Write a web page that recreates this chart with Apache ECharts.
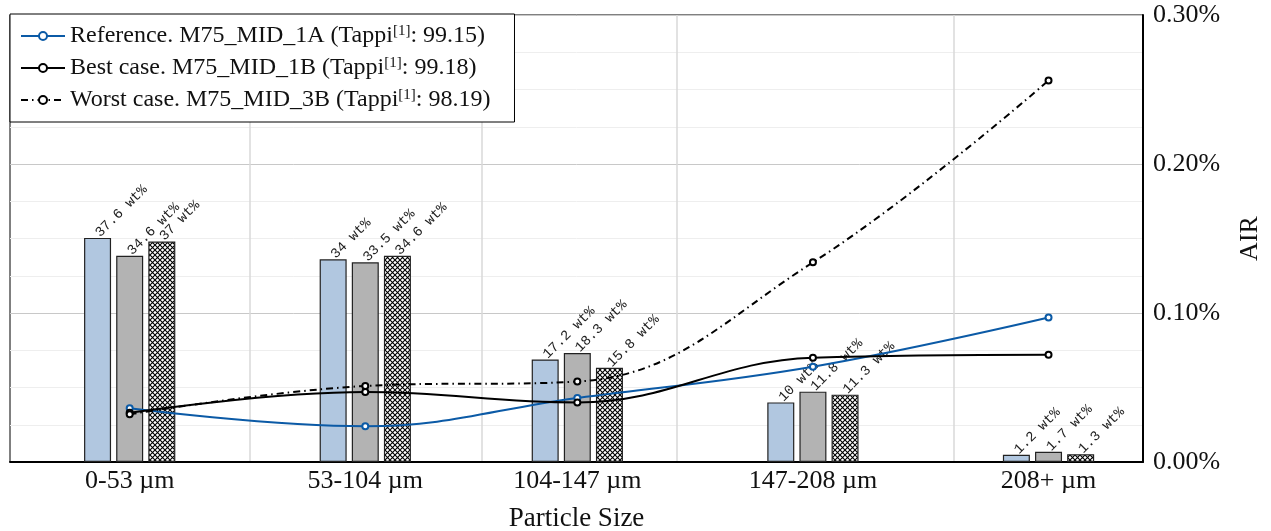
<!DOCTYPE html>
<html>
<head>
<meta charset="utf-8">
<script src="https://cdn.jsdelivr.net/npm/echarts@6/dist/echarts.min.js"></script>
<style>
	html, body { margin: 0; padding: 0; background: #fff; }
	#chart { width: 1271px; height: 531px; }
</style>
</head>
<body>
<div id="chart"></div>
<script>
	// particle size classes and where pgfplots put them on the x axis
	var categories = ['0-53 µm', '53-104 µm', '104-147 µm', '147-208 µm', '208+ µm'];
	var categoryPos = [0, 1, 1.9, 2.9, 3.9];
	var gridPos = [0.511, 1.494, 2.322, 3.496];

	var seriesNames = ['Reference. M75_MID_1A', 'Best case. M75_MID_1B', 'Worst case. M75_MID_3B'];
	var tappi = ['99.15', '99.18', '98.19'];

	// mass fraction per class (wt%)
	var massRef = [37.6, 34, 17.2, 10, 1.2];
	var massBest = [34.6, 33.5, 18.3, 11.8, 1.7];
	var massWorst = [37, 34.6, 15.8, 11.3, 1.3];

	// AIR per class (%)
	var airRef = [0.036, 0.024, 0.043, 0.064, 0.097];
	var airBest = [0.033, 0.047, 0.040, 0.070, 0.072];
	var airWorst = [0.032, 0.051, 0.054, 0.134, 0.256];

	var airTicks = [0, 0.1, 0.2, 0.3];

	function pairs (xs, ys) {
		return ys.map(function (v, i) { return [xs[i], v]; });
	}

	// cross hatch fill for the worst case bars
	var hatch = document.createElement('canvas');
	hatch.width = 5;
	hatch.height = 5;
	var ctx = hatch.getContext('2d');
	ctx.fillStyle = '#fff';
	ctx.fillRect(0, 0, 5, 5);
	ctx.strokeStyle = '#000';
	ctx.lineWidth = 1.1;
	ctx.beginPath();
	ctx.moveTo(0, 0); ctx.lineTo(5, 5);
	ctx.moveTo(5, 0); ctx.lineTo(0, 5);
	ctx.stroke();

	var serif = 'Liberation Serif';

	var barLabel = {
		show: true,
		position: 'top',
		rotate: 45,
		align: 'left',
		verticalAlign: 'middle',
		distance: 3,
		fontFamily: 'Liberation Mono',
		fontSize: 14,
		color: '#222',
		formatter: function (p) { return p.value[1] + ' wt%'; }
	};

	function barSeries (name, data, fill) {
		return {
			name: name,
			type: 'bar',
			xAxisIndex: 0,
			yAxisIndex: 1,
			barWidth: 27,
			barGap: '19%',
			data: pairs(categoryPos, data),
			itemStyle: { color: fill, borderColor: '#222', borderWidth: 1.2 },
			label: barLabel,
			z: 2
		};
	}

	function lineSeries (idx, data, color, type) {
		return {
			name: seriesNames[idx],
			type: 'line',
			xAxisIndex: 0,
			yAxisIndex: 0,
			smooth: 0.4,
			data: pairs(categoryPos, data),
			symbol: 'emptyCircle',
			symbolSize: 6,
			itemStyle: { color: color, borderColor: color, borderWidth: 1.6 },
			lineStyle: { color: color, width: 2, type: type },
			z: 5
		};
	}

	var chart = echarts.init(document.getElementById('chart'));
	var option = {
		animation: false,
		backgroundColor: '#fff',
		grid: {
			left: 10,
			right: 128,
			top: 15,
			bottom: 69,
			outerBoundsMode: 'none',
			show: true,
			borderColor: '#000',
			borderWidth: 1
		},
		legend: {
			data: seriesNames,
			orient: 'vertical',
			left: 10,
			top: 14,
			padding: [10, 24, 10, 10],
			itemWidth: 44,
			itemHeight: 10,
			itemGap: 8,
			backgroundColor: '#fff',
			borderColor: '#000',
			borderWidth: 1,
			z: 10,
			formatter: function (name) {
				var i = seriesNames.indexOf(name);
				return '{t|' + name + ' (Tappi}{s|[1]}{t|: ' + tappi[i] + ')}';
			},
			textStyle: {
				rich: {
					t: { fontFamily: serif, fontSize: 24, color: '#111', lineHeight: 24 },
					s: { fontFamily: serif, fontSize: 15, color: '#111', lineHeight: 12, verticalAlign: 'top' }
				}
			}
		},
		xAxis: {
			type: 'value',
			min: -0.508,
			max: 4.301,
			name: 'Particle Size',
			nameLocation: 'middle',
			nameGap: 43,
			nameTextStyle: { fontFamily: serif, fontSize: 27, color: '#111' },
			axisLine: { show: true, onZero: false, lineStyle: { color: '#000', width: 2 } },
			axisTick: { show: false, customValues: gridPos },
			axisLabel: {
				customValues: categoryPos,
				margin: 6,
				fontFamily: serif,
				fontSize: 26,
				color: '#111',
				formatter: function (v) {
					for (var i = 0; i < categoryPos.length; i++) {
						if (Math.abs(categoryPos[i] - v) < 1e-6) return categories[i];
					}
					return '';
				}
			},
			splitLine: { show: true, lineStyle: { color: '#d9d9d9', width: 1.5 } }
		},
		yAxis: [{
			type: 'value',
			position: 'right',
			min: 0,
			max: 0.3,
			interval: 0.1,
			name: 'AIR',
			nameLocation: 'middle',
			nameRotate: 90,
			nameGap: 94,
			nameTextStyle: { fontFamily: serif, fontSize: 26, color: '#111' },
			axisLine: { show: true, onZero: false, lineStyle: { color: '#000', width: 2 } },
			axisTick: { show: false, customValues: airTicks },
			axisLabel: {
				customValues: airTicks,
				margin: 10,
				fontFamily: serif,
				fontSize: 26,
				color: '#111',
				formatter: function (v) { return v.toFixed(2) + '%'; }
			},
			splitLine: { show: true, lineStyle: { color: '#c8c8c8', width: 1 } },
			minorTick: { show: false, splitNumber: 4 },
			minorSplitLine: { show: true, lineStyle: { color: '#eeeeee', width: 1 } }
		}, {
			type: 'value',
			position: 'left',
			min: 0,
			max: 75,
			show: false,
			axisLine: { onZero: false },
			splitLine: { show: false }
		}],
		series: [
			barSeries('ref wt', massRef, '#b1c7e0'),
			barSeries('best wt', massBest, '#b3b3b3'),
			barSeries('worst wt', massWorst, { image: hatch, repeat: 'repeat' }),
			lineSeries(0, airRef, '#0b5aa6', 'solid'),
			lineSeries(1, airBest, '#000', 'solid'),
			lineSeries(2, airWorst, '#000', [7, 4, 1.5, 4])
		]
	};
	chart.setOption(option);
</script>
</body>
</html>
